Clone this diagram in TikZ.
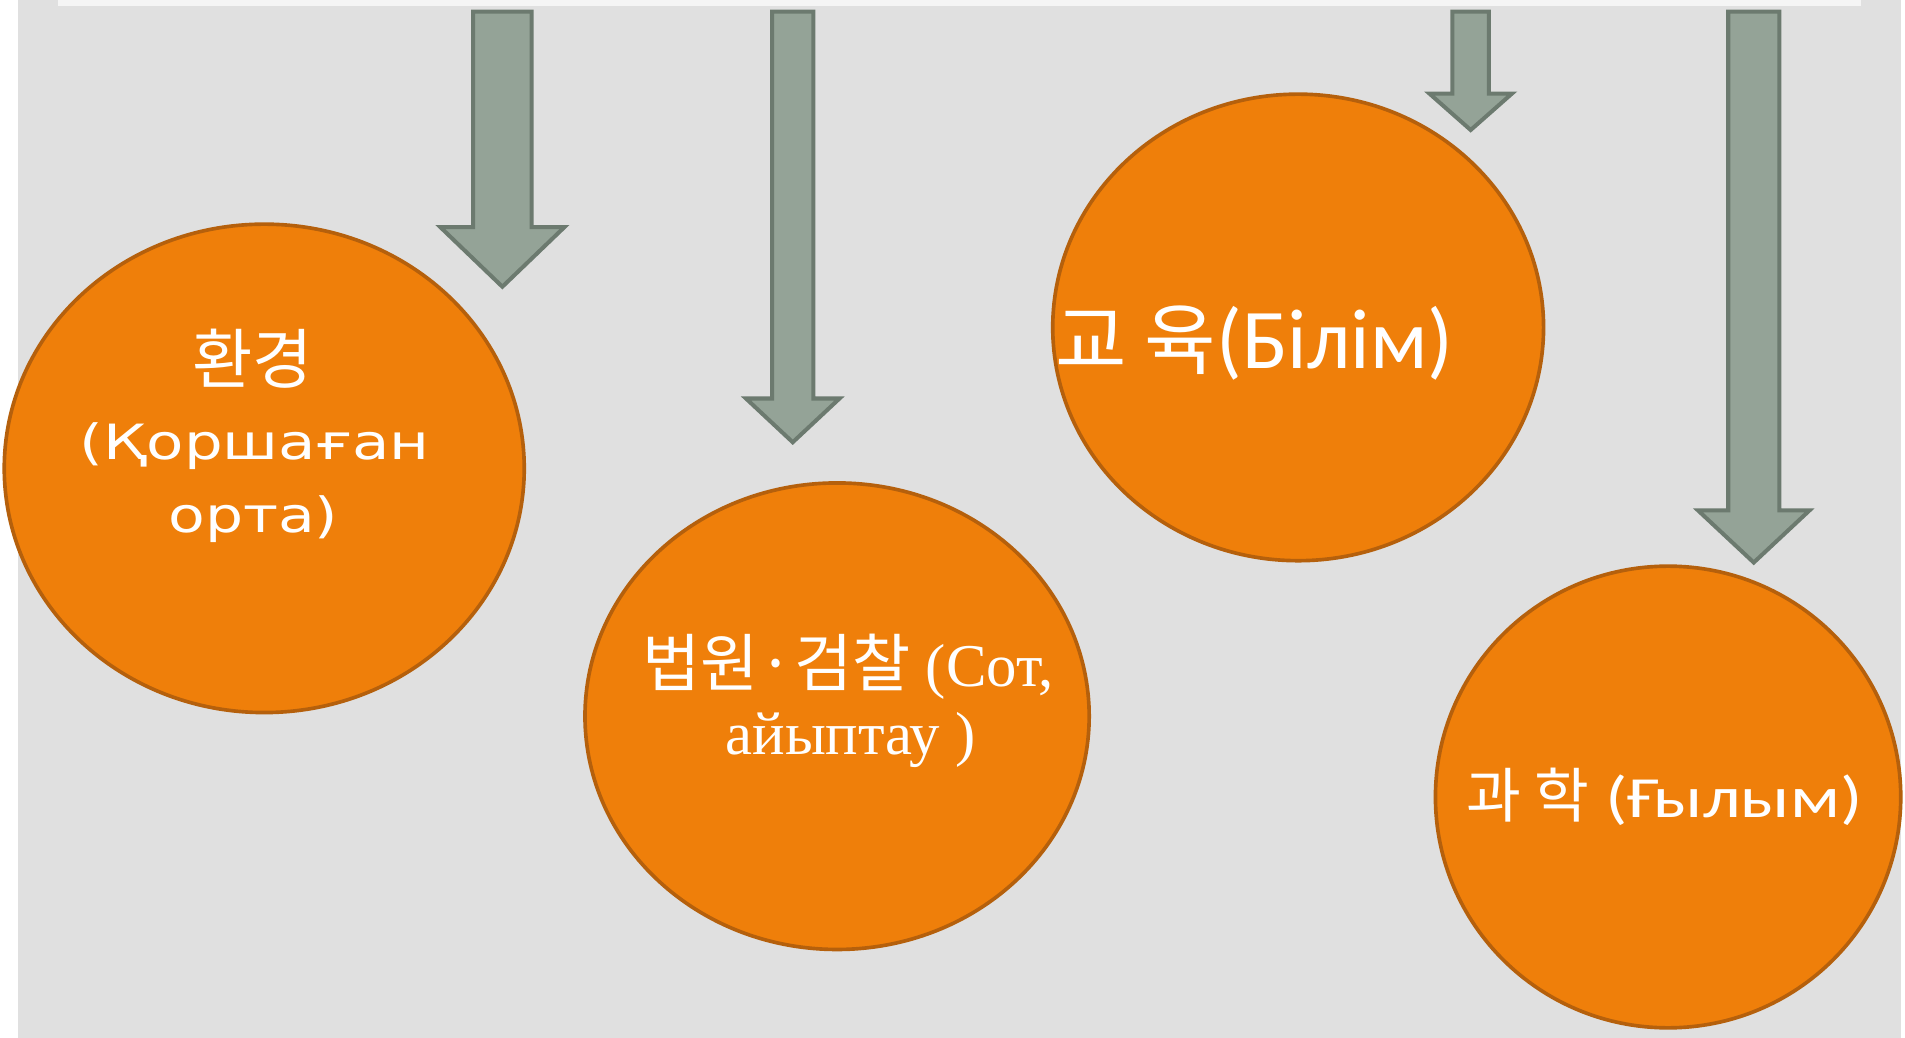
\documentclass[tikz,border=0pt]{standalone}
\usepackage{fontspec}
\usepackage{graphicx}
\usetikzlibrary{shapes.geometric}
\newfontfamily\kofont{Noto Sans CJK KR}
\newfontfamily\gothfont{DejaVu Sans}
\newfontfamily\serffont{Liberation Serif}
\newfontfamily\calfont{Carlito}
\definecolor{bggray}{HTML}{E0E0E0}
\definecolor{topbar}{HTML}{F5F5F5}
\definecolor{arrowfill}{HTML}{94A397}
\definecolor{arrowedge}{HTML}{6C7A6F}
\definecolor{bubblefill}{HTML}{EF7F0A}
\definecolor{bubbleedge}{HTML}{B5600C}
\begin{document}
\begin{tikzpicture}[x=1pt,y=-1pt,
  bubble/.style={ellipse, draw=bubbleedge, fill=bubblefill, line width=3pt, inner sep=0pt},
  blockarrow/.style={draw=arrowedge, fill=arrowfill, line width=3.3pt, line join=miter},
  lbl/.style={text=white, inner sep=0pt, outer sep=0pt}]
\useasboundingbox (0,0) rectangle (1568,854);
\fill[white] (0,0) rectangle (1568,854);
\fill[bggray] (15,0) rectangle (1565,854);
\fill[topbar] (48,0) rectangle (1532,5);

% bubbles
\node[bubble, minimum width=428pt, minimum height=402pt] (env) at (217.5,385.5) {};
\node[bubble, minimum width=415pt, minimum height=384pt] (court) at (689,589.5) {};
\node[bubble, minimum width=404pt, minimum height=384pt] (edu) at (1068.5,269.5) {};
\node[bubble, minimum width=383pt, minimum height=380pt] (sci) at (1373,656) {};

% block arrows
\foreach \cx/\sw/\hw/\by/\ty in {413.5/24/51/187/236, 652.5/17/38.5/328/364, 1210.5/15/34/77/107, 1443.5/21/46/420/463}{
  \draw[blockarrow] ({\cx-\sw},9.5) -- ({\cx+\sw},9.5) -- ({\cx+\sw},\by) -- ({\cx+\hw},\by)
    -- (\cx,\ty) -- ({\cx-\hw},\by) -- ({\cx-\sw},\by) -- cycle;
}

% labels
\node[lbl, anchor=base] (envA) at (208,316) {\kofont\fontsize{54}{54}\selectfont 환경};
\node[lbl, anchor=base] (envB) at (209.5,378.5) {\resizebox{288pt}{\height}{\gothfont\fontsize{40}{40}\selectfont (Қоршаған}};
\node[lbl, anchor=base] (envC) at (208.5,438) {\resizebox{140pt}{\height}{\gothfont\fontsize{40}{40}\selectfont орта)}};

\node[lbl, anchor=base west] (courtA) at (529,565) {{\kofont\fontsize{52}{52}\selectfont 법원·검찰}{\serffont\fontsize{50}{50}\selectfont\ (Сот,}};
\node[lbl, anchor=base] (courtB) at (700,621) {\serffont\fontsize{50}{50}\selectfont айыптау )};

\node[lbl, anchor=base west] (eduA) at (869,303) {{\kofont\fontsize{64}{64}\selectfont 교 육}{\calfont\fontsize{70}{70}\selectfont (Білім)}};

\node[lbl, anchor=base west] (sciA) at (1207,673) {{\kofont\fontsize{49}{49}\selectfont 과 학}\hspace{13pt}\resizebox{212pt}{\height}{\calfont\fontsize{48}{48}\selectfont (Ғылым)}};
\end{tikzpicture}
\end{document}
